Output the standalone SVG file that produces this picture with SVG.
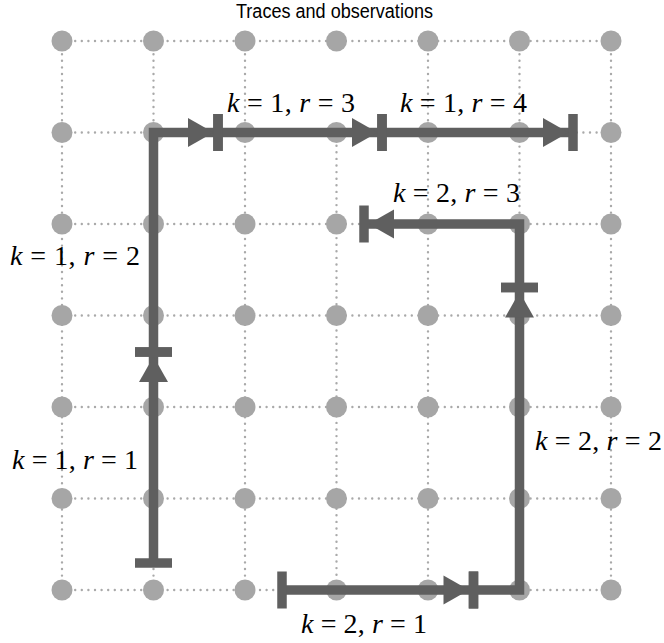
<svg xmlns="http://www.w3.org/2000/svg" width="664" height="643" viewBox="0 0 664 643">
<style>
.grid line{stroke:#a9a9a9;stroke-width:2.4;stroke-dasharray:0 6.6;stroke-linecap:round}
.node circle{fill:#a6a6a6}
.seg{fill:none;stroke:#5f5f5f;stroke-width:9.5;stroke-linejoin:miter;stroke-linecap:butt;marker-start:url(#bar);marker-end:url(#arrowbar)}
.lbl{font-family:"Liberation Serif","Times New Roman",serif;font-size:28px;fill:#000}
.lbl tspan.i{font-style:italic}
.title{font-family:"Liberation Sans",Arial,sans-serif;font-size:20px;fill:#000}
</style>
<defs>
<marker id="bar" markerUnits="userSpaceOnUse" orient="auto" refX="0" refY="0" markerWidth="40" markerHeight="40" overflow="visible">
<rect x="-4.75" y="-18.5" width="9.5" height="37" fill="#5f5f5f"/>
</marker>
<marker id="arrowbar" markerUnits="userSpaceOnUse" orient="auto" refX="0" refY="0" markerWidth="40" markerHeight="40" overflow="visible">
<rect x="-4.75" y="-18.5" width="9.5" height="37" fill="#5f5f5f"/>
<polygon points="-4.5,0 -30,-14.5 -30,14.5" fill="#5f5f5f"/>
</marker>
</defs>
<rect width="664" height="643" fill="#fff"/>
<text class="title" x="236" y="18" textLength="197" lengthAdjust="spacingAndGlyphs">Traces and observations</text>
<g class="grid">
<line x1="62" y1="41" x2="611" y2="41"/>
<line x1="62" y1="132.5" x2="611" y2="132.5"/>
<line x1="62" y1="224" x2="611" y2="224"/>
<line x1="62" y1="315.5" x2="611" y2="315.5"/>
<line x1="62" y1="407" x2="611" y2="407"/>
<line x1="62" y1="498.5" x2="611" y2="498.5"/>
<line x1="62" y1="590" x2="611" y2="590"/>
<line x1="62" y1="41" x2="62" y2="590"/>
<line x1="153.5" y1="41" x2="153.5" y2="590"/>
<line x1="245" y1="41" x2="245" y2="590"/>
<line x1="336.5" y1="132.5" x2="336.5" y2="590"/>
<line x1="428" y1="41" x2="428" y2="590"/>
<line x1="519.5" y1="41" x2="519.5" y2="590"/>
<line x1="611" y1="41" x2="611" y2="590"/>
</g>
<g id="nodes">
<g id="n00" class="node"><circle cx="62" cy="41" r="10.5"/></g>
<g id="n01" class="node"><circle cx="153.5" cy="41" r="10.5"/></g>
<g id="n02" class="node"><circle cx="245" cy="41" r="10.5"/></g>
<g id="n03" class="node"><circle cx="336.5" cy="41" r="10.5"/></g>
<g id="n04" class="node"><circle cx="428" cy="41" r="10.5"/></g>
<g id="n05" class="node"><circle cx="519.5" cy="41" r="10.5"/></g>
<g id="n06" class="node"><circle cx="611" cy="41" r="10.5"/></g>
<g id="n10" class="node"><circle cx="62" cy="132.5" r="10.5"/></g>
<g id="n11" class="node"><circle cx="153.5" cy="132.5" r="10.5"/></g>
<g id="n12" class="node"><circle cx="245" cy="132.5" r="10.5"/></g>
<g id="n13" class="node"><circle cx="336.5" cy="132.5" r="10.5"/></g>
<g id="n14" class="node"><circle cx="428" cy="132.5" r="10.5"/></g>
<g id="n15" class="node"><circle cx="519.5" cy="132.5" r="10.5"/></g>
<g id="n16" class="node"><circle cx="611" cy="132.5" r="10.5"/></g>
<g id="n20" class="node"><circle cx="62" cy="224" r="10.5"/></g>
<g id="n21" class="node"><circle cx="153.5" cy="224" r="10.5"/></g>
<g id="n22" class="node"><circle cx="245" cy="224" r="10.5"/></g>
<g id="n23" class="node"><circle cx="336.5" cy="224" r="10.5"/></g>
<g id="n24" class="node"><circle cx="428" cy="224" r="10.5"/></g>
<g id="n25" class="node"><circle cx="519.5" cy="224" r="10.5"/></g>
<g id="n26" class="node"><circle cx="611" cy="224" r="10.5"/></g>
<g id="n30" class="node"><circle cx="62" cy="315.5" r="10.5"/></g>
<g id="n31" class="node"><circle cx="153.5" cy="315.5" r="10.5"/></g>
<g id="n32" class="node"><circle cx="245" cy="315.5" r="10.5"/></g>
<g id="n33" class="node"><circle cx="336.5" cy="315.5" r="10.5"/></g>
<g id="n34" class="node"><circle cx="428" cy="315.5" r="10.5"/></g>
<g id="n35" class="node"><circle cx="519.5" cy="315.5" r="10.5"/></g>
<g id="n36" class="node"><circle cx="611" cy="315.5" r="10.5"/></g>
<g id="n40" class="node"><circle cx="62" cy="407" r="10.5"/></g>
<g id="n41" class="node"><circle cx="153.5" cy="407" r="10.5"/></g>
<g id="n42" class="node"><circle cx="245" cy="407" r="10.5"/></g>
<g id="n43" class="node"><circle cx="336.5" cy="407" r="10.5"/></g>
<g id="n44" class="node"><circle cx="428" cy="407" r="10.5"/></g>
<g id="n45" class="node"><circle cx="519.5" cy="407" r="10.5"/></g>
<g id="n46" class="node"><circle cx="611" cy="407" r="10.5"/></g>
<g id="n50" class="node"><circle cx="62" cy="498.5" r="10.5"/></g>
<g id="n51" class="node"><circle cx="153.5" cy="498.5" r="10.5"/></g>
<g id="n52" class="node"><circle cx="245" cy="498.5" r="10.5"/></g>
<g id="n53" class="node"><circle cx="336.5" cy="498.5" r="10.5"/></g>
<g id="n54" class="node"><circle cx="428" cy="498.5" r="10.5"/></g>
<g id="n55" class="node"><circle cx="519.5" cy="498.5" r="10.5"/></g>
<g id="n56" class="node"><circle cx="611" cy="498.5" r="10.5"/></g>
<g id="n60" class="node"><circle cx="62" cy="590" r="10.5"/></g>
<g id="n61" class="node"><circle cx="153.5" cy="590" r="10.5"/></g>
<g id="n62" class="node"><circle cx="245" cy="590" r="10.5"/></g>
<g id="n63" class="node"><circle cx="336.5" cy="590" r="10.5"/></g>
<g id="n64" class="node"><circle cx="428" cy="590" r="10.5"/></g>
<g id="n65" class="node"><circle cx="519.5" cy="590" r="10.5"/></g>
<g id="n66" class="node"><circle cx="611" cy="590" r="10.5"/></g>
</g>
<g id="connectors">
<path id="k1r1" class="seg" d="M153.5,563 V352"/>
<path id="k1r2" class="seg" d="M153.5,352 V132.5 H218"/>
<path id="k1r3" class="seg" d="M218,132.5 H382"/>
<path id="k1r4" class="seg" d="M382,132.5 H573"/>
<path id="k2r1" class="seg" d="M282,590 H473.5"/>
<path id="k2r2" class="seg" d="M473.5,590 H519.5 V287.5"/>
<path id="k2r3" class="seg" d="M519.5,287.5 V224 H364"/>
</g>
<g id="labels">
<text class="lbl" x="227" y="112" textLength="128"><tspan class="i">k</tspan> = 1, <tspan class="i">r</tspan> = 3</text>
<text class="lbl" x="400" y="112" textLength="127"><tspan class="i">k</tspan> = 1, <tspan class="i">r</tspan> = 4</text>
<text class="lbl" x="393" y="202" textLength="127"><tspan class="i">k</tspan> = 2, <tspan class="i">r</tspan> = 3</text>
<text class="lbl" x="10" y="265" textLength="130"><tspan class="i">k</tspan> = 1, <tspan class="i">r</tspan> = 2</text>
<text class="lbl" x="12" y="469" textLength="126"><tspan class="i">k</tspan> = 1, <tspan class="i">r</tspan> = 1</text>
<text class="lbl" x="535" y="450" textLength="127"><tspan class="i">k</tspan> = 2, <tspan class="i">r</tspan> = 2</text>
<text class="lbl" x="301" y="633" textLength="126"><tspan class="i">k</tspan> = 2, <tspan class="i">r</tspan> = 1</text>
</g>
</svg>
